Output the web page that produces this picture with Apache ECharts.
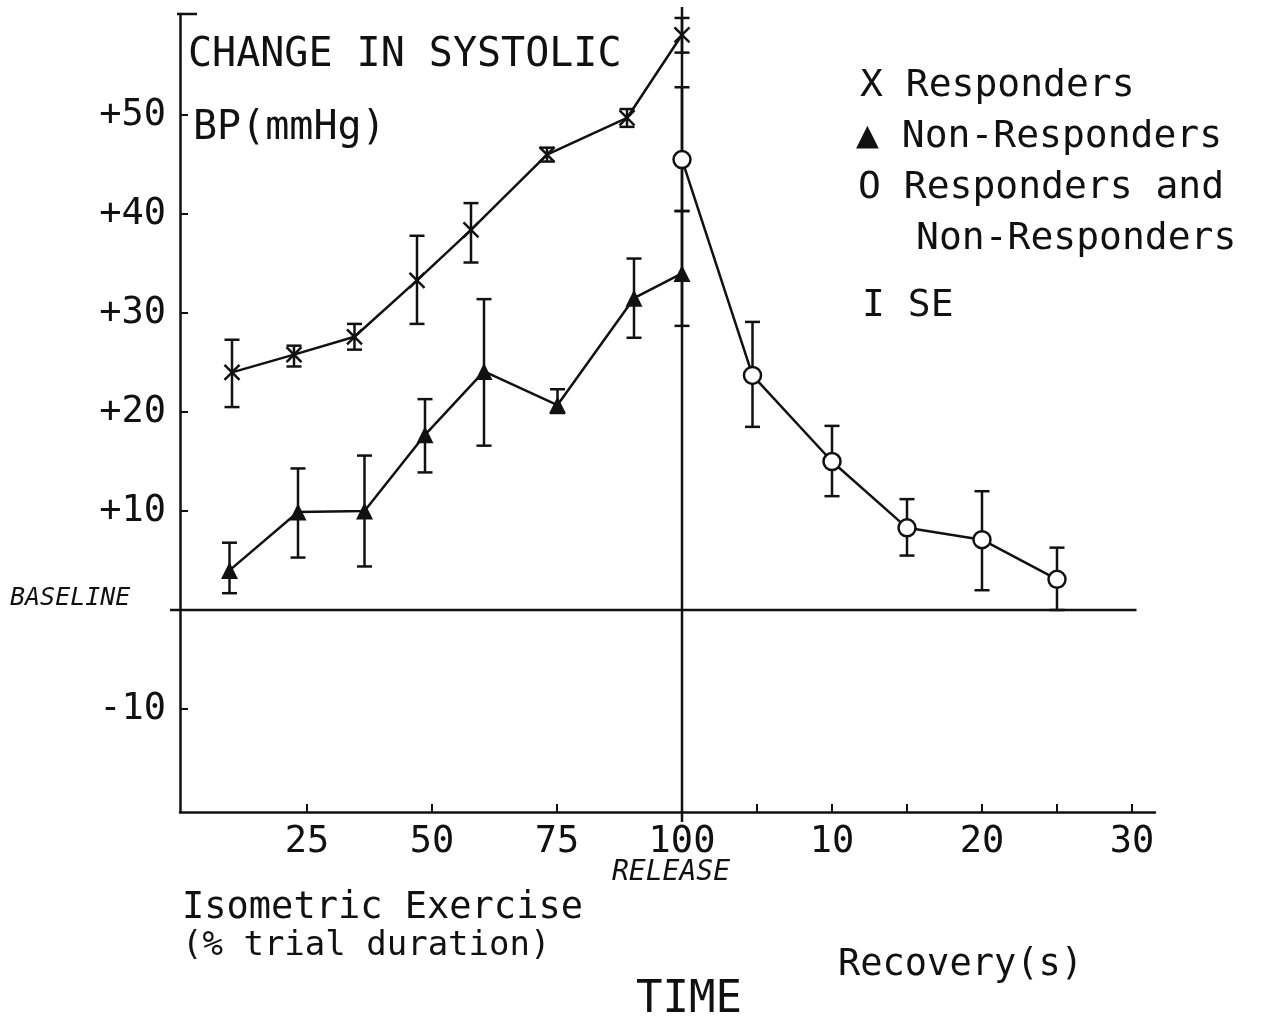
<!DOCTYPE html>
<html>
<head>
<meta charset="utf-8">
<script src="https://cdn.jsdelivr.net/npm/echarts@6/dist/echarts.min.js"></script>
<style>
  html, body { margin: 0; padding: 0; background: #fff; }
  #chart { width: 1276px; height: 1022px; }
</style>
</head>
<body>
<div id="chart"></div>
<script>
// Isometric exercise phase (x = % of trial duration)
const respPct  = [10, 22.4, 34.5, 47, 57.8, 73, 89, 100];
const respMean = [24.0, 25.8, 27.6, 33.3, 38.4, 46.0, 49.7, 58.1];
const respLo   = [20.5, 24.6, 26.3, 28.9, 35.1, 45.3, 48.8, 56.3];
const respHi   = [27.3, 26.7, 28.9, 37.8, 41.1, 46.7, 50.6, 59.8];

const nonPct  = [9.5, 23.2, 36.5, 48.6, 60.4, 75.1, 90.4, 100];
const nonMean = [4.0, 9.9, 10.0, 17.7, 24.1, 20.7, 31.5, 34.0];
const nonLo   = [1.7, 5.3, 4.4, 13.9, 16.6, 19.9, 27.5, 28.7];
const nonHi   = [6.8, 14.3, 15.6, 21.3, 31.4, 22.3, 35.5, 40.3];

// Recovery phase (x = seconds after release), all subjects
const recSec  = [0, 4.7, 10, 15, 20, 25];
const recMean = [45.5, 23.7, 15.0, 8.3, 7.1, 3.1];
const recLo   = [40.3, 18.5, 11.5, 5.5, 2.0, 0.0];
const recHi   = [52.8, 29.1, 18.6, 11.2, 12.0, 6.3];

// Axis ticks and labels
const pctTicks  = [25, 50, 75, 100];
const secTicks  = [5, 10, 15, 20, 25, 30];
const secLabels = [10, 20, 30];
const yTicks    = [-10, 0, 10, 20, 30, 40, 50];
const yLabels   = [-10, 10, 20, 30, 40, 50];

// One shared x scale: the recovery seconds continue after release (100 %)
const RELEASE = 100;
const SEC_UNIT = 3;
const secToX = s => RELEASE + s * SEC_UNIT;
const X_MIN = -0.4, X_MAX = 194.6;
const Y_MIN = -20.4, Y_MAX = 60.2;
const BASE_END = secToX(30.3);

const INK = '#111';
const FONT = 'DejaVu Sans Mono';
const LW = 2.5;

const zip = (xs, ys) => xs.map((x, i) => [x, ys[i]]);
const bars = (xs, lo, hi) => xs.map((x, i) => [x, lo[i], hi[i]]);

function errorBar(params, api) {
  const x = api.value(0);
  const lo = api.coord([x, api.value(1)]);
  const hi = api.coord([x, api.value(2)]);
  const w = 7.5;
  const st = { stroke: INK, lineWidth: LW };
  return {
    type: 'group',
    children: [
      { type: 'line', shape: { x1: lo[0], y1: lo[1], x2: hi[0], y2: hi[1] }, style: st },
      { type: 'line', shape: { x1: lo[0] - w, y1: lo[1], x2: lo[0] + w, y2: lo[1] }, style: st },
      { type: 'line', shape: { x1: hi[0] - w, y1: hi[1], x2: hi[0] + w, y2: hi[1] }, style: st }
    ]
  };
}

// Release line, baseline and the top corner tick of the y axis
function frame(params, api) {
  const top = api.coord([RELEASE, Y_MAX]);
  const bot = api.coord([RELEASE, Y_MIN]);
  const b0 = api.coord([X_MIN, 0]);
  const b1 = api.coord([BASE_END, 0]);
  const c = api.coord([X_MIN, Y_MAX]);
  const st = { stroke: INK, lineWidth: LW };
  return {
    type: 'group',
    children: [
      { type: 'line', shape: { x1: top[0], y1: top[1] - 7, x2: bot[0], y2: bot[1] + 10 }, style: st },
      { type: 'line', shape: { x1: b0[0] - 10, y1: b0[1], x2: b1[0], y2: b1[1] }, style: st },
      { type: 'line', shape: { x1: c[0] - 3, y1: c[1], x2: c[0] + 17, y2: c[1] }, style: st }
    ]
  };
}

function txt(text, x, y, size, extra) {
  return {
    type: 'text', x: x, y: y, silent: true,
    style: Object.assign({
      text: text, fill: INK, font: size + 'px "' + FONT + '"',
      textAlign: 'left', textVerticalAlign: 'middle'
    }, extra || {})
  };
}

const chart = echarts.init(document.getElementById('chart'), null, { renderer: 'canvas' });

chart.setOption({
  backgroundColor: '#fff',
  animation: false,
  grid: { left: 180, right: 121, top: 14, bottom: 210 },
  xAxis: {
    type: 'value', min: X_MIN, max: X_MAX,
    axisLine: { show: true, onZero: false, lineStyle: { color: INK, width: LW } },
    axisTick: {
      show: true, inside: true, length: 8,
      customValues: pctTicks.concat(secTicks.map(secToX)),
      lineStyle: { color: INK, width: 2 }
    },
    axisLabel: {
      show: true, margin: 12, color: INK, fontFamily: FONT, fontSize: 37,
      customValues: pctTicks.concat(secLabels.map(secToX)),
      formatter: v => (v <= RELEASE ? String(Math.round(v)) : String(Math.round((v - RELEASE) / SEC_UNIT)))
    },
    splitLine: { show: false }
  },
  yAxis: {
    type: 'value', min: Y_MIN, max: Y_MAX,
    axisLine: { show: true, onZero: false, lineStyle: { color: INK, width: LW } },
    axisTick: {
      show: true, inside: true, length: 8,
      customValues: yTicks,
      lineStyle: { color: INK, width: 2 }
    },
    axisLabel: {
      show: true, margin: 14, color: INK, fontFamily: FONT, fontSize: 37,
      customValues: yLabels,
      formatter: v => (v > 0 ? '+' + v : String(v))
    },
    splitLine: { show: false }
  },
  series: [
    {
      type: 'custom', name: 'frame', renderItem: frame, clip: false,
      data: [[RELEASE, 0]], encode: { x: 0, y: 1 }, silent: true, z: 1
    },
    {
      type: 'custom', name: 'Responders SE', renderItem: errorBar, clip: false,
      data: bars(respPct, respLo, respHi), encode: { x: 0, y: [1, 2] }, z: 2
    },
    {
      type: 'custom', name: 'Non-Responders SE', renderItem: errorBar, clip: false,
      data: bars(nonPct, nonLo, nonHi), encode: { x: 0, y: [1, 2] }, z: 2
    },
    {
      type: 'custom', name: 'Recovery SE', renderItem: errorBar, clip: false,
      data: bars(recSec.map(secToX), recLo, recHi), encode: { x: 0, y: [1, 2] }, z: 2
    },
    {
      type: 'line', name: 'Responders', data: zip(respPct, respMean),
      symbol: 'path://M0,0L10,10M0,10L10,0', symbolSize: 15,
      lineStyle: { color: INK, width: LW },
      itemStyle: { color: 'rgba(0,0,0,0)', borderColor: INK, borderWidth: LW },
      z: 3
    },
    {
      type: 'line', name: 'Non-Responders', data: zip(nonPct, nonMean),
      symbol: 'triangle', symbolSize: 17,
      lineStyle: { color: INK, width: LW },
      itemStyle: { color: INK, borderWidth: 0 },
      z: 3
    },
    {
      type: 'line', name: 'Responders and Non-Responders', data: zip(recSec.map(secToX), recMean),
      symbol: 'circle', symbolSize: 17,
      lineStyle: { color: INK, width: LW },
      itemStyle: { color: '#fff', borderColor: INK, borderWidth: LW },
      z: 4
    }
  ],
  graphic: [
    txt('CHANGE IN SYSTOLIC', 188, 56, 40),
    txt('BP(mmHg)', 193, 129, 40),
    txt('X Responders', 860, 86, 38),
    txt('\u25B2 Non-Responders', 856, 137, 38),
    txt('O Responders and', 858, 188, 38),
    txt('Non-Responders', 916, 239, 38),
    txt('I SE', 862, 306, 38),
    txt('BASELINE', 10, 598, 25, { font: 'oblique 25px "' + FONT + '"' }),
    txt('RELEASE', 612, 873, 28, { font: 'oblique 28px "' + FONT + '"' }),
    txt('Isometric Exercise', 182, 908, 37),
    txt('(% trial duration)', 182, 946, 34),
    txt('Recovery(s)', 838, 965, 37),
    txt('TIME', 636, 1001, 44)
  ]
});
</script>
</body>
</html>
